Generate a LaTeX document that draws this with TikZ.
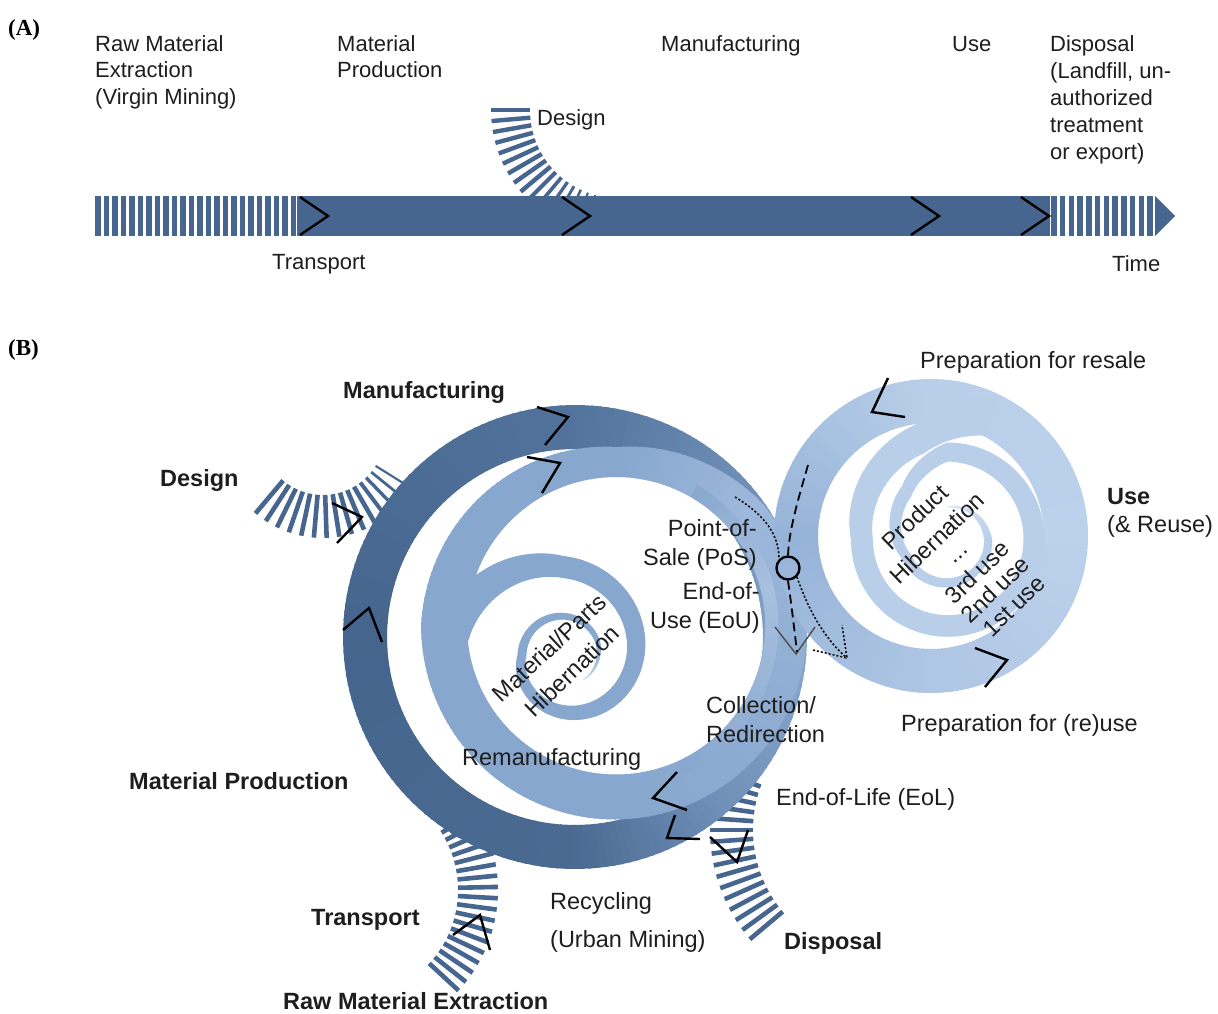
\documentclass[tikz,border=0pt]{standalone}
\usepackage{fontspec}
\setmainfont{Liberation Sans}
\newfontfamily\panelfont{Liberation Serif}
\usetikzlibrary{calc}

\definecolor{dk}{RGB}{70,102,143}
\definecolor{ink}{RGB}{30,30,30}
% outer (dark) ring
\definecolor{dkB}{HTML}{4A6A92}
\definecolor{dkL}{HTML}{45658D}
\definecolor{dkT}{HTML}{52739C}
\definecolor{dkTR}{HTML}{7393BC}
\definecolor{dkR}{HTML}{86A5CB}
\definecolor{dkBR}{HTML}{6F8FB8}
% remanufacturing ring
\definecolor{lb}{HTML}{87A7CE}
\definecolor{lTR}{HTML}{9DB8DB}
\definecolor{lR}{HTML}{93B0D5}
\definecolor{hl}{HTML}{A9C0DF}
\definecolor{ltip}{HTML}{C4D5EB}
% use spiral
\definecolor{rc}{HTML}{96B3D8}
\definecolor{rb}{HTML}{AFC6E4}
\definecolor{rr}{HTML}{BCD1EB}
\definecolor{rt}{HTML}{B9CFE9}
\definecolor{rtip}{HTML}{DCE7F4}

% a curved band: centre x, centre y, start angle, end angle,
% start/end mid radius, start/end width; colour runs bandA -> bandB
\newcommand\band[8]{%
  \pgfmathtruncatemacro\bandN{max(2,ceil(abs(#4-#3)/2))}%
  \foreach \bandI in {1,...,\bandN}{%
    \pgfmathsetmacro\fa{(\bandI-1)/\bandN}%
    \pgfmathsetmacro\fb{\bandI/\bandN}%
    \pgfmathsetmacro\ta{#3+(#4-#3)*\fa}%
    \pgfmathsetmacro\tb{#3+(#4-#3)*\fb+0.6*sign(#4-#3)}%
    \pgfmathsetmacro\ra{#5+(#6-#5)*\fa}%
    \pgfmathsetmacro\rb{#5+(#6-#5)*\fb}%
    \pgfmathsetmacro\wa{(#7+(#8-#7)*\fa)/2}%
    \pgfmathsetmacro\wb{(#7+(#8-#7)*\fb)/2}%
    \pgfmathtruncatemacro\pc{round(100*(\bandI-0.5)/\bandN)}%
    \fill[bandB!\pc!bandA]
      ({#1+(\ra+\wa)*cos(\ta)},{#2+(\ra+\wa)*sin(\ta)}) --
      ({#1+(\rb+\wb)*cos(\tb)},{#2+(\rb+\wb)*sin(\tb)}) --
      ({#1+(\rb-\wb)*cos(\tb)},{#2+(\rb-\wb)*sin(\tb)}) --
      ({#1+(\ra-\wa)*cos(\ta)},{#2+(\ra-\wa)*sin(\ta)}) -- cycle;
  }%
}
\newcommand\cols[2]{\colorlet{bandA}{#1}\colorlet{bandB}{#2}}

\tikzset{
  chev/.style={line width=2.4pt, black, line join=miter},
  stripe/.style={line width=4.6pt, dk},
  txt/.style={font=\fontsize{22}{26}\selectfont, text=ink, inner sep=0pt},
  ntxt/.style={font=\fontsize{23.5}{28}\selectfont, text=ink, inner sep=0pt},
  btxt/.style={font=\fontsize{23.5}{28}\selectfont\bfseries, text=ink, inner sep=0pt},
  ptxt/.style={font=\fontsize{23}{27}\selectfont\panelfont\bfseries, text=black, inner sep=0pt},
}

\begin{document}
\begin{tikzpicture}[x=1pt,y=-1pt]
\useasboundingbox (0,0) rectangle (1218,1013);
\fill[white] (0,0) rectangle (1218,1013);

% ---------------- panel A: linear economy ----------------
\node[ptxt, anchor=base west] (pa) at (8,35) {(A)};

% design feed, thinning out where it joins the bar
\foreach \a in {180,175,...,100}{
  \pgfmathsetmacro\lw{\a>140 ? 4.4 : 1.4+3*(\a-100)/40}
  \draw[stripe, line width=\lw pt] ({618+88*cos(\a)},{110+88*sin(\a)}) -- ({618+127*cos(\a)},{110+127*sin(\a)});
}
% extraction and disposal hatching
\foreach \i in {0,...,23}
  \fill[dk] (95+8.5*\i,196) rectangle ++(5.5,40);
\foreach \i in {0,...,11}
  \fill[dk] (1051+8.75*\i,196) rectangle ++(5.5,40);
% main flow bar
\fill[dk] (297,196) rectangle (1050,236);
\fill[dk] (1155,196) -- (1175,216) -- (1155,236) -- cycle;
\foreach \x in {300,562,911,1021}
  \draw[chev] (\x,197) -- (\x+28,216) -- (\x,235);

\node[txt, anchor=base west] (a1) at (95,51) {Raw Material};
\node[txt, anchor=base west] (a2) at (95,77) {Extraction};
\node[txt, anchor=base west] (a3) at (95,104) {(Virgin Mining)};
\node[txt, anchor=base west] (a4) at (337,51) {Material};
\node[txt, anchor=base west] (a5) at (337,77) {Production};
\node[txt, anchor=base west] (a6) at (661,51) {Manufacturing};
\node[txt, anchor=base west] (a7) at (952,51) {Use};
\node[txt, anchor=base west] (a8) at (1050,51) {Disposal};
\node[txt, anchor=base west] (a9) at (1050,78) {(Landfill, un-};
\node[txt, anchor=base west] (a10) at (1050,105) {authorized};
\node[txt, anchor=base west] (a11) at (1050,132) {treatment};
\node[txt, anchor=base west] (a12) at (1050,159) {or export)};
\node[txt, anchor=base west] (a13) at (537,125) {Design};
\node[txt, anchor=base west] (a14) at (272,269) {Transport};
\node[txt, anchor=base west] (a15) at (1112,271) {Time};

% ---------------- panel B: circular economy ----------------
\node[ptxt, anchor=base west] (pb) at (8,355) {(B)};

% hatched feeds entering and leaving the outer loop
\foreach \a in {130,123,...,28}{
  \pgfmathsetmacro\lw{\a>60 ? 4.6 : 1.8+2.8*(\a-28)/32}
  \draw[stripe, line width=\lw pt] ({323+62*cos(\a)},{433+62*sin(\a)}) -- ({323+105*cos(\a)},{433+105*sin(\a)});
}
\foreach \a in {-32,-27.6,...,43}
  \draw[stripe] ({350+108*cos(\a)},{890+108*sin(\a)}) -- ({350+148*cos(\a)},{890+148*sin(\a)});
\foreach \a in {140,144,...,200}
  \draw[stripe] ({880+127*cos(\a)},{830+127*sin(\a)}) -- ({880+170*cos(\a)},{830+170*sin(\a)});

% outer loop (recycling)
\cols{dkB}{dkL}\band{575}{637}{90}{180}{210}{210}{44}{44}
\cols{dkL}{dkT}\band{575}{637}{180}{270}{210}{210}{44}{44}
\cols{dkT}{dkTR}\band{575}{637}{270}{325}{210}{210}{44}{44}
\cols{dkTR}{dkR}\band{575}{637}{325}{370}{210}{210}{44}{44}
\cols{dkR}{dkBR}\band{575}{637}{370}{410}{210}{210}{44}{44}
\cols{dkBR}{dkB}\band{575}{637}{410}{450}{210}{210}{44}{44}

% remanufacturing loop
\cols{lb}{lb}\band{616}{626}{90}{180}{171}{172}{45}{46}
\cols{lb}{lb}\band{616}{626}{180}{270}{172}{164}{46}{30}
\cols{lb}{lTR}\band{616}{626}{270}{320}{164}{170}{30}{42}
\cols{lTR}{lR}\band{616}{626}{320}{360}{170}{170}{42}{42}
\cols{lR}{lb}\band{616}{626}{360}{450}{170}{171}{42}{45}
\cols{lb}{hl}\band{616}{626}{300}{345}{156}{156}{13}{13}
\cols{hl}{lb}\band{616}{626}{345}{425}{156}{156}{13}{13}
% material / parts hibernation spiral
\cols{lb}{lb}\band{563}{655}{175}{270}{118}{88}{38}{22}
\cols{lb}{lb}\band{563}{655}{270}{450}{88}{57}{22}{14}
\cols{lb}{lb}\band{563}{655}{450}{540}{57}{41}{14}{9}
\cols{lb}{lb}\band{563}{655}{540}{700}{41}{37}{9}{5}
\cols{lb}{ltip}\band{563}{655}{700}{770}{37}{32}{5}{0.5}

% use loop
\cols{rb}{rc}\band{931}{536}{90}{180}{135}{135}{44}{44}
\cols{rc}{rt}\band{931}{536}{180}{270}{135}{135}{44}{44}
\cols{rt}{rr}\band{931}{536}{270}{360}{135}{135}{44}{44}
\cols{rr}{rb}\band{931}{536}{0}{90}{135}{135}{44}{44}
% product hibernation spiral
\cols{rt}{rt}\band{948}{540}{290}{255}{132}{105}{42}{30}
\cols{rt}{rt}\band{948}{540}{255}{180}{105}{86}{30}{22}
\cols{rt}{rt}\band{948}{540}{180}{0}{86}{86}{22}{21}
\cols{rt}{rt}\band{948}{540}{0}{-90}{86}{88}{21}{19}
\cols{rt}{rt}\band{948}{540}{-90}{-130}{88}{64}{19}{14}
\cols{rt}{rt}\band{948}{540}{-130}{-200}{64}{45}{14}{10}
\cols{rt}{rt}\band{948}{540}{-200}{-360}{45}{40}{10}{8}
\cols{rt}{rtip}\band{948}{540}{-360}{-450}{40}{33}{8}{1}

% direction marks
\draw[chev] (537,407) -- (568,417) -- (545,445);
\draw[chev] (527,457) -- (560,463) -- (542,493);
\draw[chev] (343,630) -- (369,608) -- (382,642);
\draw[chev] (677,772) -- (653,798) -- (687,810);
\draw[chev] (675,815) -- (667,838) -- (700,839);
\draw[chev] (888,378) -- (872,412) -- (905,417);
\draw[chev] (975,648) -- (1007,660) -- (985,687);
\draw[chev] (332,503) -- (362,517) -- (337,543);
\draw[chev] (453,935) -- (480,915) -- (490,950);
\draw[chev] (710,837) -- (737,862) -- (748,830);
\draw[line width=1.4pt, black!70] (775,627) -- (796,654) -- (815,627);

% point of sale and the two paths through it
\node[circle, draw=black, line width=2.4pt, minimum size=23pt, inner sep=0pt] (pos) at (788,568) {};
\coordinate (dashA) at (808,465);
\coordinate (dashB) at (797,652);
\coordinate (dotA) at (735,497);
\coordinate (dotB) at (847,658);
\draw[line width=1.8pt, dash pattern=on 9pt off 5pt] (dashA) .. controls (798,500) and (789,530) .. (pos.north);
\draw[line width=1.8pt, dash pattern=on 9pt off 5pt] (pos.south) .. controls (792,610) .. (dashB);
\draw[line width=1.5pt, dash pattern=on 2pt off 2pt] (dotA) .. controls (765,515) and (779,535) .. (pos.north west);
\draw[line width=1.5pt, dash pattern=on 2pt off 2pt] (pos.south east) .. controls (810,615) and (828,642) .. (dotB);
\draw[line width=1.5pt, dash pattern=on 2pt off 2pt] (813,650) -- (dotB) -- (842,625);

% labels
\node[ntxt, anchor=base west] (b1) at (920,368) {Preparation for resale};
\node[btxt, anchor=base west] (b2) at (343,398) {Manufacturing};
\node[btxt, anchor=base west] (b3) at (160,486) {Design};
\node[btxt, anchor=base west] (b4) at (1107,504) {Use};
\node[ntxt, anchor=base west] (b5) at (1107,532) {(\& Reuse)};
\node[ntxt, anchor=base east] (b6) at (757,536) {Point-of-};
\node[ntxt, anchor=base east] (b7) at (757,565) {Sale (PoS)};
\node[ntxt, anchor=base east] (b8) at (760,599) {End-of-};
\node[ntxt, anchor=base east] (b9) at (760,628) {Use (EoU)};
\node[ntxt, anchor=base west] (b10) at (706,713) {Collection/};
\node[ntxt, anchor=base west] (b11) at (706,742) {Redirection};
\node[ntxt, anchor=base west] (b12) at (901,731) {Preparation for (re)use};
\node[ntxt, anchor=base west] (b13) at (462,765) {Remanufacturing};
\node[btxt, anchor=base west] (b14) at (129,789) {Material Production};
\node[ntxt, anchor=base west] (b15) at (776,805) {End-of-Life (EoL)};
\node[ntxt, anchor=base west] (b16) at (550,909) {Recycling};
\node[ntxt, anchor=base west] (b17) at (550,947) {(Urban Mining)};
\node[btxt, anchor=base west] (b18) at (311,925) {Transport};
\node[btxt, anchor=base west] (b19) at (784,949) {Disposal};
\node[btxt, anchor=base west] (b20) at (283,1009) {Raw Material Extraction};

\node[ntxt, rotate=43] (h1) at (549,648) {Material/Parts};
\node[ntxt, rotate=44] (h2) at (572,671) {Hibernation};
\node[ntxt, rotate=44] (h3) at (915,517) {Product};
\node[ntxt, rotate=44] (h4) at (937,538) {Hibernation};
\node[ntxt, rotate=44] (h5) at (961,557) {...};
\node[ntxt, rotate=44] (h6) at (977,572) {3rd use};
\node[ntxt, rotate=44] (h7) at (995,589) {2nd use};
\node[ntxt, rotate=44] (h8) at (1014,606) {1st use};
\end{tikzpicture}
\end{document}
